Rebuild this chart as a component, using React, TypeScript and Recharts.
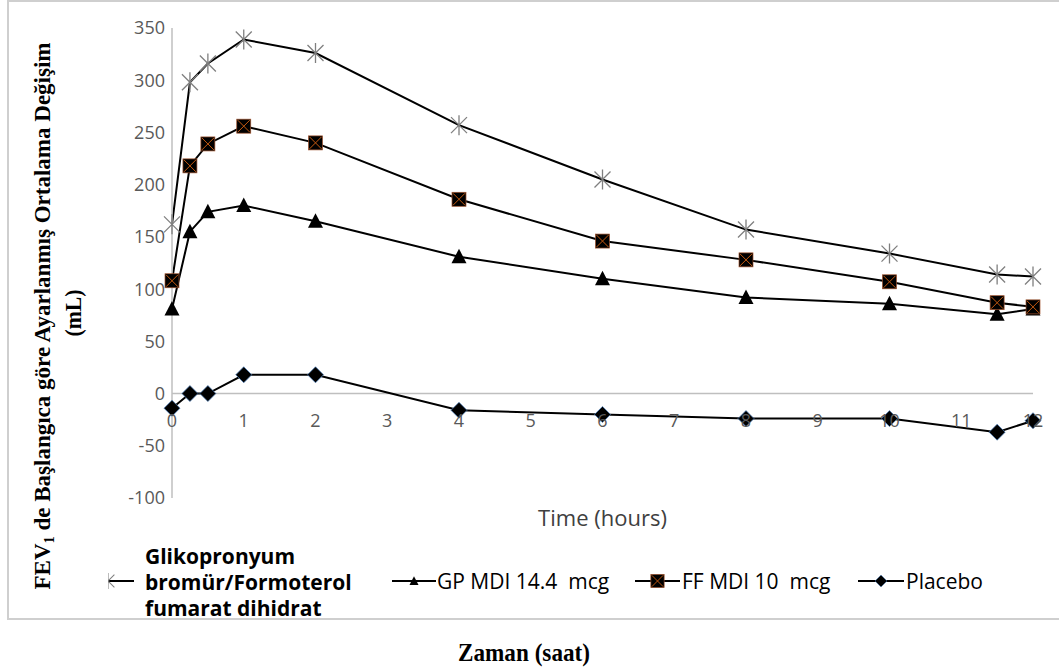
import { Legend, Line, LineChart, ReferenceDot, ReferenceLine, XAxis, YAxis } from "recharts"

// measurement times (hours)
const hours = [0, 0.25, 0.5, 1, 2, 4, 6, 8, 10, 11.5, 12]

const gffValues = [162, 298, 316, 339, 326, 257, 205, 157, 134, 114, 112]
const gpValues = [81, 155, 174, 180, 165, 131, 110, 92, 86, 76, 81]
const ffValues = [108, 218, 239, 256, 240, 186, 146, 128, 107, 87, 83]
const placeboValues = [-14, 0, 0, 18, 18, -16, -20, -24, -24, -37, -26]

const xTicks = [0, 1, 2, 3, 4, 5, 6, 7, 8, 9, 10, 11, 12]
const yTicks = [-100, -50, 0, 50, 100, 150, 200, 250, 300, 350]

const gffName = "Glikopronyum bromür/Formoterol fumarat dihidrat"
const gpName = "GP MDI 14.4  mcg"
const ffName = "FF MDI 10  mcg"
const placeboName = "Placebo"

const data = hours.map((hour, i) => ({
  hour,
  gff: gffValues[i],
  gp: gpValues[i],
  ff: ffValues[i],
  placebo: placeboValues[i],
}))

const sans = "'Open Sans', sans-serif"
const serif = "'Liberation Serif', 'Times New Roman', serif"

type Kind = "star" | "triangle" | "square" | "diamond"

function Marker({ kind, scale = 1 }: { kind: Kind; scale?: number }) {
  if (kind === "star") {
    return (
      <path
        transform={`scale(${scale})`}
        d="M-8,-8L8,8M-8,8L8,-8M0,-10L0,10"
        stroke="#7f7f7f"
        strokeWidth={1.3}
        fill="none"
      />
    )
  }
  if (kind === "triangle") {
    return <polygon transform={`scale(${scale})`} points="0,-8 7.5,6.5 -7.5,6.5" fill="#000" />
  }
  if (kind === "square") {
    return (
      <g transform={`scale(${scale})`}>
        <rect x={-7} y={-7} width={14} height={14} fill="#000" stroke="#a0522d" strokeWidth={0.7} />
        <path d="M-6,-6L6,6M-6,6L6,-6" stroke="#c55a11" strokeWidth={1} />
      </g>
    )
  }
  return <polygon transform={`scale(${scale})`} points="0,-8 8,0 0,8 -8,0" fill="#000" stroke="#4a7ebb" strokeWidth={0.7} />
}

const makeDot = (kind: Kind) => (p: any) => (
  <g key={`${kind}-${p.index}`} transform={`translate(${p.cx},${p.cy})`}>
    <Marker kind={kind} />
  </g>
)

function LegendBox() {
  const item = (left: number, width: number, kind: Kind, scale: number, text: string, textLeft: number) => (
    <div key={kind}>
      <svg
        width={width}
        height={20}
        style={{ position: "absolute", left, top: 31, overflow: "visible" }}
      >
        <line x1={0} y1={10} x2={width} y2={10} stroke="#000" strokeWidth={2} />
        <g transform={`translate(${width / 2},10)`}>
          <Marker kind={kind} scale={scale} />
        </g>
      </svg>
      <div
        style={{
          position: "absolute",
          left: textLeft,
          top: 28,
          lineHeight: "26px",
          fontSize: 21,
          fontFamily: sans,
          color: "#000",
          whiteSpace: "pre",
        }}
      >
        {text}
      </div>
    </div>
  )

  return (
    <div style={{ position: "relative", width: 1059, height: 80 }}>
      <svg width={26} height={20} style={{ position: "absolute", left: 108, top: 31 }}>
        <line x1={0} y1={10} x2={26} y2={10} stroke="#000" strokeWidth={2} />
        <g transform="translate(0,10)">
          <Marker kind="star" scale={0.8} />
        </g>
      </svg>
      <div
        style={{
          position: "absolute",
          left: 145,
          top: 3,
          lineHeight: "26px",
          fontSize: 21,
          fontWeight: 700,
          fontFamily: sans,
          color: "#000",
        }}
      >
        <div>Glikopronyum</div>
        <div>bromür/Formoterol</div>
        <div>fumarat dihidrat</div>
      </div>
      {item(392, 44, "triangle", 0.6, gpName, 437)}
      {item(635, 45, "square", 0.95, ffName, 682)}
      {item(858, 46, "diamond", 0.75, placeboName, 906)}
    </div>
  )
}

export default function App() {
  return (
    <div
      style={{
        position: "absolute",
        left: 0,
        top: 0,
        width: 1059,
        height: 669,
        background: "#fff",
        overflow: "hidden",
      }}
    >
      <div
        style={{
          position: "absolute",
          left: 7,
          top: 0,
          width: 1100,
          height: 616,
          borderTop: "2px solid #cfcfcf",
          borderLeft: "2px solid #cfcfcf",
          borderBottom: "2px solid #cfcfcf",
        }}
      />
      <div style={{ position: "absolute", left: 0, top: 0 }}>
        <LineChart width={1059} height={669} data={data} margin={{ top: 28, right: 26, bottom: 0, left: 0 }}>
          <XAxis
            dataKey="hour"
            type="number"
            domain={[0, 12]}
            ticks={xTicks}
            tick={false}
            axisLine={false}
            tickLine={false}
            height={171}
            label={{ value: "Time (hours)", position: "insideTop", offset: 12, fill: "#404040", fontSize: 22, fontFamily: sans }}
          />
          <YAxis
            type="number"
            domain={[-100, 350]}
            ticks={yTicks}
            width={172}
            axisLine={{ stroke: "#bfbfbf", strokeWidth: 1.5 }}
            tickLine={false}
            tickMargin={1}
            tick={{ fill: "#595959", fontSize: 18, fontFamily: sans }}
            interval={0}
          />
          <ReferenceLine y={0} stroke="#bfbfbf" strokeWidth={1.5} />
          {xTicks.map((t) => (
            <ReferenceDot
              key={t}
              x={t}
              y={0}
              r={0}
              fill="none"
              stroke="none"
              label={{ value: String(t), position: "bottom", offset: 21, fill: "#595959", fontSize: 18, fontFamily: sans }}
            />
          ))}
          <Legend
            layout="horizontal"
            verticalAlign="middle"
            align="center"
            content={() => <LegendBox />}
            wrapperStyle={{ top: 540, left: 0, width: 1059, height: 80 }}
          />
          <Line dataKey="gff" name={gffName} stroke="#000" strokeWidth={2} dot={makeDot("star")} isAnimationActive={false} />
          <Line dataKey="gp" name={gpName} stroke="#000" strokeWidth={2} dot={makeDot("triangle")} isAnimationActive={false} />
          <Line dataKey="ff" name={ffName} stroke="#000" strokeWidth={2} dot={makeDot("square")} isAnimationActive={false} />
          <Line dataKey="placebo" name={placeboName} stroke="#000" strokeWidth={2} dot={makeDot("diamond")} isAnimationActive={false} />
        </LineChart>
      </div>
      <svg width={1059} height={669} style={{ position: "absolute", left: 0, top: 0, pointerEvents: "none" }}>
        <text
          transform="translate(50,316) rotate(-90)"
          textAnchor="middle"
          fontFamily={serif}
          fontWeight="bold"
          fontSize={24}
          fill="#000"
          textLength={547}
          lengthAdjust="spacingAndGlyphs"
        >
          FEV<tspan fontSize={15} dy={4}>1</tspan>
          <tspan dy={-4}> de Başlangıca göre Ayarlanmış Ortalama Değişim</tspan>
        </text>
        <text
          transform="translate(81,313) rotate(-90)"
          textAnchor="middle"
          fontFamily={serif}
          fontWeight="bold"
          fontSize={24}
          fill="#000"
          textLength={47}
          lengthAdjust="spacingAndGlyphs"
        >
          (mL)
        </text>
        <text
          x={524}
          y={661}
          textAnchor="middle"
          fontFamily={serif}
          fontWeight="bold"
          fontSize={25}
          fill="#000"
          textLength={132}
          lengthAdjust="spacingAndGlyphs"
        >
          Zaman (saat)
        </text>
      </svg>
    </div>
  )
}
